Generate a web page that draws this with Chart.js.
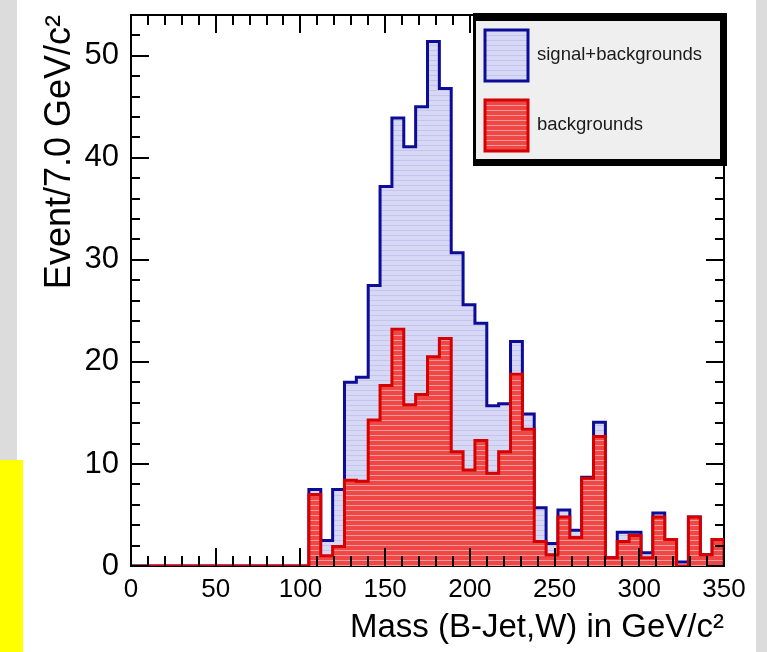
<!DOCTYPE html>
<html>
<head>
<meta charset="utf-8">
<script src="https://cdn.jsdelivr.net/npm/chart.js@4.4.1/dist/chart.umd.min.js"></script>
<style>
  html, body { margin: 0; padding: 0; background: #fff; }
  body { width: 767px; height: 652px; position: relative; overflow: hidden; }
  .strip { position: absolute; }
  #grayLeft { left: 0; top: 0; width: 17px; height: 460px; background: #dcdcdc; }
  #yellow { left: 0; top: 460px; width: 23px; height: 192px; background: #ffff00; }
  #grayRight { left: 756px; top: 0; width: 11px; height: 652px; background: #dcdcdc; }
  canvas { position: absolute; left: 0; top: 0; }
</style>
</head>
<body>
<div class="strip" id="grayLeft"></div>
<div class="strip" id="yellow"></div>
<div class="strip" id="grayRight"></div>
<canvas id="hist" width="767" height="652"></canvas>
<script>
// histogram bins: lower edges in GeV/c^2, 7 GeV wide
const binWidth = 7;
const binLow = [
  0, 7, 14, 21, 28, 35, 42, 49, 56, 63,
  70, 77, 84, 91, 98, 105, 112, 119, 126, 133,
  140, 147, 154, 161, 168, 175, 182, 189, 196, 203,
  210, 217, 224, 231, 238, 245, 252, 259, 266, 273,
  280, 287, 294, 301, 308, 315, 322, 329, 336, 343
];

// signal + backgrounds (stacked total)
const sigPlusBkg = [
  0, 0, 0, 0, 0, 0, 0, 0, 0, 0,
  0, 0, 0, 0, 0, 7.5, 2.5, 7.5, 18.0, 18.5,
  27.5, 37.2, 43.9, 41.1, 45.0, 51.4, 46.8, 30.7, 25.6, 23.8,
  15.7, 15.9, 22.0, 14.9, 5.7, 2.2, 5.5, 3.5, 8.7, 14.1,
  0.8, 3.3, 3.3, 1.3, 5.2, 2.6, 0.4, 4.8, 1.1, 2.6
];

// backgrounds only
const bkg = [
  0, 0, 0, 0, 0, 0, 0, 0, 0, 0,
  0, 0, 0, 0, 0, 7.0, 1.0, 1.9, 8.4, 8.3,
  14.3, 17.7, 23.2, 15.8, 16.8, 20.5, 22.3, 11.2, 9.4, 12.3,
  9.1, 11.2, 18.8, 13.4, 2.4, 1.1, 4.8, 2.8, 8.6, 12.7,
  0.8, 2.4, 3.0, 0.8, 4.8, 2.6, 0.0, 4.8, 1.1, 2.6
];

const xTicks = [0, 50, 100, 150, 200, 250, 300, 350];
const yTicks = [0, 10, 20, 30, 40, 50];
const xRange = [0, 350];
const yRange = [0, 54];

const canvas = document.getElementById('hist');
const ctx = canvas.getContext('2d');

// ROOT-like horizontal hatch fill
function stripes(base, line, gap) {
  const c = document.createElement('canvas');
  c.width = 8; c.height = gap;
  const g = c.getContext('2d');
  g.fillStyle = base; g.fillRect(0, 0, 8, gap);
  g.fillStyle = line; g.fillRect(0, 0, 8, 1);
  return ctx.createPattern(c, 'repeat');
}
const bluePattern = stripes('#d7d7f6', '#c4c4ec', 5);
const redPattern = stripes('#ef4646', '#f89a9a', 5);

// step outline: one point per bin edge, closed at the last edge
function stepPoints(values) {
  const pts = binLow.map((x, i) => ({ x: x, y: values[i] }));
  const end = binLow[binLow.length - 1] + binWidth;
  pts.push({ x: end, y: values[values.length - 1] });
  pts.push({ x: end, y: 0 });
  return pts;
}

const frame = {
  id: 'frame',
  beforeDatasetsDraw(chart) {
    const a = chart.chartArea;
    const c = chart.ctx;
    c.save();
    c.strokeStyle = '#000';
    c.lineWidth = 2;
    c.strokeRect(a.left, a.top, a.right - a.left, a.bottom - a.top);
    c.restore();
  },
  afterDatasetsDraw(chart) {
    const a = chart.chartArea;
    const c = chart.ctx;
    const xs = chart.scales.x, ys = chart.scales.y;
    c.save();
    c.strokeStyle = '#000';
    c.lineWidth = 2;
    c.beginPath();
    for (let v = xRange[0]; v <= xRange[1]; v += 10) {
      const px = Math.round(xs.getPixelForValue(v));
      const len = v % 50 === 0 ? 18 : 10;
      c.moveTo(px, a.bottom); c.lineTo(px, a.bottom - len);
      c.moveTo(px, a.top); c.lineTo(px, a.top + len);
    }
    for (let v = yRange[0]; v <= yRange[1]; v += 2) {
      const py = Math.round(ys.getPixelForValue(v));
      const len = v % 10 === 0 ? 18 : 9;
      c.moveTo(a.left, py); c.lineTo(a.left + len, py);
      c.moveTo(a.right, py); c.lineTo(a.right - len, py);
    }
    c.stroke();
    c.beginPath();
    c.moveTo(a.left, a.top); c.lineTo(a.left, a.bottom);
    c.stroke();
    c.restore();
  }
};

const legendBox = {
  id: 'legendBox',
  afterDraw(chart) {
    const c = chart.ctx;
    c.save();
    c.fillStyle = '#000';
    c.fillRect(473, 13, 254, 153);
    c.fillStyle = '#efefef';
    c.fillRect(476, 21, 244, 138);
    const entries = [chart.data.datasets[1], chart.data.datasets[0]];
    entries.forEach((ds, i) => {
      const y = 30 + i * 70;
      c.fillStyle = ds.backgroundColor;
      c.fillRect(485, y, 43, 51);
      c.strokeStyle = ds.borderColor;
      c.lineWidth = 3;
      c.strokeRect(485, y, 43, 51);
      c.fillStyle = '#1a1a1a';
      c.font = '18.5px "Liberation Sans", Arial, sans-serif';
      c.textBaseline = 'middle';
      c.textAlign = 'left';
      c.fillText(ds.label, 537, y + 25);
    });
    c.restore();
  }
};

new Chart(ctx, {
  type: 'line',
  data: {
    datasets: [
      {
        label: 'backgrounds',
        data: stepPoints(bkg),
        stepped: true,
        borderColor: '#d60000',
        borderWidth: 3,
        backgroundColor: redPattern,
        fill: 'origin',
        pointRadius: 0,
        order: 0
      },
      {
        label: 'signal+backgrounds',
        data: stepPoints(sigPlusBkg),
        stepped: true,
        borderColor: '#0c0c98',
        borderWidth: 3,
        backgroundColor: bluePattern,
        fill: 'origin',
        pointRadius: 0,
        order: 1
      }
    ]
  },
  options: {
    responsive: false,
    animation: false,
    devicePixelRatio: 1,
    layout: { padding: { top: 15, right: 43, left: 0, bottom: 0 } },
    plugins: { legend: { display: false }, tooltip: { enabled: false } },
    scales: {
      x: {
        type: 'linear',
        min: xRange[0],
        max: xRange[1],
        afterFit: s => { s.height = 86; },
        afterBuildTicks: s => { s.ticks = xTicks.map(v => ({ value: v })); },
        grid: { display: false, drawTicks: false },
        border: { display: false },
        ticks: {
          padding: 8,
          color: '#000',
          maxRotation: 0,
          autoSkip: false,
          font: { family: '"Liberation Sans", Arial, sans-serif', size: 26 }
        },
        title: {
          display: true,
          text: 'Mass (B-Jet,W) in GeV/c²',
          align: 'end',
          color: '#000',
          padding: { top: 0, bottom: 4 },
          font: { family: '"Liberation Sans", Arial, sans-serif', size: 33 }
        }
      },
      y: {
        type: 'linear',
        min: yRange[0],
        max: yRange[1],
        afterFit: s => { s.width = 131; s.paddingTop = 0; s.paddingBottom = 0; },
        afterBuildTicks: s => { s.ticks = yTicks.map(v => ({ value: v })); },
        grid: { display: false, drawTicks: false },
        border: { display: false },
        ticks: {
          padding: 12,
          color: '#000',
          autoSkip: false,
          font: { family: '"Liberation Sans", Arial, sans-serif', size: 31 }
        },
        title: {
          display: true,
          text: 'Event/7.0 GeV/c²',
          align: 'end',
          color: '#000',
          padding: { top: 38, bottom: 0 },
          font: { family: '"Liberation Sans", Arial, sans-serif', size: 36 }
        }
      }
    }
  },
  plugins: [frame, legendBox]
});
</script>
</body>
</html>
